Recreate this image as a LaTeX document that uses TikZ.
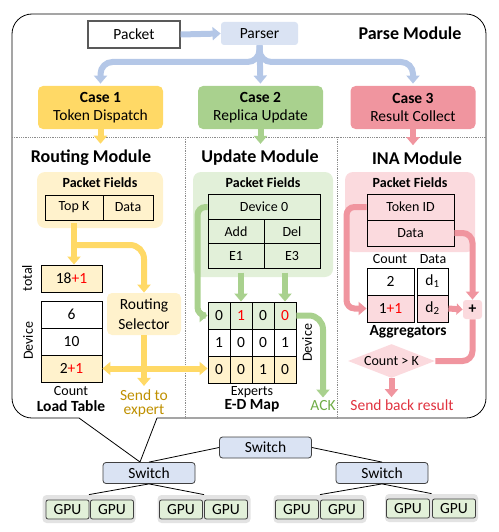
\documentclass[tikz,border=0pt]{standalone}
\usepackage{fontspec}
\setmainfont{Carlito}
\usetikzlibrary{arrows.meta,shapes.geometric}

\definecolor{blueArr}{HTML}{B4C7E7}
\definecolor{blueFill}{HTML}{DAE3F3}
\definecolor{yelCase}{HTML}{FFD966}
\definecolor{yelLight}{HTML}{FFF2CC}
\definecolor{grnCase}{HTML}{A9D18E}
\definecolor{grnLight}{HTML}{E2F0D9}
\definecolor{pnkCase}{HTML}{F0959F}
\definecolor{pnkLight}{HTML}{FBDADE}
\definecolor{goldText}{HTML}{BF9000}
\definecolor{ackText}{HTML}{70AD47}
\definecolor{redText}{HTML}{E0323F}
\definecolor{gpuGroup}{HTML}{E3E3E3}

\newcommand\titlefs{\fontsize{18}{21}\selectfont}
\newcommand\mainfs{\fontsize{15.5}{18.5}\selectfont}
\newcommand\cellfs{\fontsize{14}{16}\selectfont}
\newcommand\plusone{\textcolor{red}{+1}}

\begin{document}
\begin{tikzpicture}[x=1pt, y=-1pt, line width=0.8pt,
    every node/.style={inner sep=1pt, font=\mainfs},
    fat/.style={line width=6pt, -{Triangle[width=13pt,length=8pt]}},
    barrow/.style={fat, draw=blueArr},
    yarrow/.style={fat, draw=yelCase},
    garrow/.style={fat, draw=grnCase},
    parrow/.style={fat, draw=pnkCase},
    casebox/.style={rounded corners=5pt, minimum width=125pt, minimum height=43pt, align=center},
    fieldsbg/.style={rounded corners=8pt},
    cell/.style={draw, line width=0.9pt, inner sep=0pt, font=\cellfs},
    numcell/.style={draw, line width=0.9pt, inner sep=0pt, minimum width=22pt, minimum height=27pt},
    title/.style={font=\titlefs\bfseries},
    subtitle/.style={font=\cellfs\bfseries},
    note/.style={font=\cellfs},
    switch/.style={draw=black!75, fill=blueFill, rounded corners=3pt, minimum width=92pt, minimum height=21pt},
    gpu/.style={draw=black!75, fill=grnLight, rounded corners=2pt, minimum width=43pt, minimum height=19pt},
    gpugroup/.style={fill=gpuGroup, rounded corners=4pt, minimum width=93pt, minimum height=28pt}]
\useasboundingbox (0,0) rectangle (498,532);

% callout frame
\coordinate (tailtip) at (140,462);
\draw[rounded corners=20pt] (157,418) -- (486,418) -- (486,14) -- (12,14) -- (12,418) -- (79,418);
\draw (79,418) -- (tailtip) -- (157,418);

% parse module
\node[draw=black!65, line width=1.2pt, fill=white, minimum width=92pt, minimum height=27pt] (packet) at (134,34.5) {Packet};
\node[fill=blueFill, rounded corners=3pt, minimum width=77pt, minimum height=23pt] (parser) at (259.5,33.5) {Parser};
\node[title] (parsetitle) at (410,33) {Parse Module};

\node[casebox, fill=yelCase] (case1) at (100.5,107.5) {\textbf{Case 1}\\Token Dispatch};
\node[casebox, fill=grnCase] (case2) at (260.5,107.5) {\textbf{Case 2}\\Replica Update};
\node[casebox, fill=pnkCase] (case3) at (413,107.5) {\textbf{Case 3}\\Result Collect};

\draw[barrow] (packet.east) -- (parser.west);
\draw[barrow, shorten >=2pt] (parser.south) -- (case2.north);
\draw[barrow, rounded corners=12pt, shorten >=2pt] (parser.south) -- (parser.south |- 0,62) -| (case1.north);
\draw[barrow, rounded corners=12pt, shorten >=2pt] (parser.south) -- (parser.south |- 0,62) -| (case3.north);

% dividers
\draw[densely dotted, black!45] (12,137) -- (486,137);
\draw[densely dotted, black!45] (185,137) -- (185,418);
\draw[densely dotted, black!45] (337,137) -- (337,418);

\node[title] (routtitle) at (91,158) {Routing Module};
\node[title] (updtitle) at (260,158) {Update Module};
\node[title] (inatitle) at (417,158) {INA Module};

\draw[yarrow] (case1.south) -- ([yshift=5pt]routtitle.north -| case1.south);
\draw[garrow] (case2.south) -- ([yshift=5pt]updtitle.north -| case2.south);
\draw[parrow] (case3.south) -- ([yshift=5pt]inatitle.north -| case3.south);

% routing module
\node[fieldsbg, fill=yelLight, minimum width=126pt, minimum height=56pt] (rbg) at (100,200) {};
\node[subtitle] at (100,183) {Packet Fields};
\node[cell, fill=yelLight, minimum width=58pt, minimum height=25pt] (topk) at (74,207.5) {Top K};
\node[cell, fill=yelLight, minimum width=50pt, minimum height=25pt] (rdata) at (128,207.5) {Data};

\node[cell, font=\mainfs, fill=yelLight, minimum width=61pt, minimum height=27pt] (total) at (71.5,278.5) {18\plusone};
\node[cell, font=\mainfs, minimum width=61pt, minimum height=27pt] (dev1) at (71.5,314.5) {6};
\node[cell, font=\mainfs, minimum width=61pt, minimum height=27pt] (dev2) at (71.5,341.5) {10};
\node[cell, font=\mainfs, fill=yelLight, minimum width=61pt, minimum height=27pt] (dev3) at (71.5,368.5) {2\plusone};
\node[note, rotate=90] at (27,278) {total};
\node[note, rotate=90] at (28,341) {Device};
\node[note] at (71,391) {Count};
\node[subtitle, font=\fontsize{15.5}{17}\selectfont\bfseries] at (71,406) {Load Table};

\node[fill=yelLight, rounded corners=5pt, minimum width=74pt, minimum height=42pt, align=center, font=\fontsize{15.5}{20}\selectfont] (selector) at (144,314) {Routing\\Selector};
\node[text=goldText, align=center, font=\fontsize{15.5}{14}\selectfont] (sendexp) at (144,403) {Send to\\expert};

\coordinate (rsplit) at (topk.south |- 0,245);
\draw[yarrow, shorten <=3pt] (topk.south) -- (topk.south |- total.north);
\draw[yarrow, rounded corners=14pt] (rsplit) -| (selector.north);
\draw[yarrow, shorten >=2pt] (selector.south) -- (sendexp.north);

% update module
\node[fieldsbg, fill=grnLight, minimum width=140pt, minimum height=105pt] (ubg) at (263,224.5) {};
\node[subtitle] at (263,183) {Packet Fields};
\node[cell, fill=grnLight, minimum width=112pt, minimum height=24.5pt] (dev0) at (264,207) {Device 0};
\node[cell, fill=grnLight, minimum width=56pt, minimum height=24.5pt] (add) at (236,231.5) {Add};
\node[cell, fill=grnLight, minimum width=56pt, minimum height=24.5pt] (del) at (292,231.5) {Del};
\node[cell, fill=grnLight, minimum width=56pt, minimum height=24.5pt] (e1) at (236,256) {E1};
\node[cell, fill=grnLight, minimum width=56pt, minimum height=24.5pt] (e3) at (292,256) {E3};

\foreach \v [count=\c] in {0,\textcolor{red}{1},0,\textcolor{red}{0}}
  \node[numcell, fill=grnLight] (ed1\c) at (197+22*\c,315.5) {\v};
\foreach \v [count=\c] in {1,0,0,1}
  \node[numcell] (ed2\c) at (197+22*\c,342.5) {\v};
\foreach \v [count=\c] in {0,0,1,0}
  \node[numcell, fill=yelLight] (ed3\c) at (197+22*\c,369.5) {\v};
\node[note, rotate=90] at (307,343) {Device};
\node[note] at (252,392) {Experts};
\node[subtitle, font=\fontsize{15.5}{17}\selectfont\bfseries] at (252,406) {E-D Map};
\node[text=ackText] (ack) at (323,406) {ACK};

\draw[garrow, shorten <=4pt] (ed12.north |- e1.south) -- (ed12.north);
\draw[garrow, shorten <=4pt] (ed14.north |- e3.south) -- (ed14.north);
\draw[garrow, rounded corners=8pt] (dev0.west) -- ++(-10,0) |- (ed11.west);
\draw[garrow, rounded corners=14pt, shorten >=2pt] (ed14.east) -| (ack.north);

\draw[yarrow, {Triangle[width=13pt,length=8pt]}-{Triangle[width=13pt,length=8pt]}] (dev3.east) -- (dev3.east -| ed31.west);

% INA module
\node[fieldsbg, fill=pnkLight, minimum width=130pt, minimum height=80pt] (ibg) at (410,212) {};
\node[subtitle] at (410,183) {Packet Fields};
\node[cell, fill=pnkLight, minimum width=87pt, minimum height=26pt] (tokid) at (410.5,207) {Token ID};
\node[cell, fill=pnkLight, minimum width=87pt, minimum height=26pt] (idata) at (410.5,233) {Data};

\node[note] at (390,259) {Count};
\node[note] at (433,259) {Data};
\node[cell, font=\mainfs, minimum width=47pt, minimum height=27pt] (cnt1) at (390.5,281.5) {2};
\node[cell, font=\mainfs, fill=pnkLight, minimum width=47pt, minimum height=27pt] (cnt2) at (390.5,308.5) {1\plusone};
\node[cell, font=\mainfs, minimum width=31pt, minimum height=27pt] (d1) at (432.5,281.5) {d\textsubscript{1}};
\node[cell, font=\mainfs, fill=pnkLight, minimum width=31pt, minimum height=27pt] (d2) at (432.5,308.5) {d\textsubscript{2}};
\node[fill=pnkLight, rounded corners=3pt, minimum width=19pt, minimum height=19pt, font=\mainfs\bfseries] (plus) at (472.5,309.5) {+};
\node[subtitle, font=\fontsize{15.5}{17}\selectfont\bfseries] at (408,332) {Aggregators};
\node[diamond, aspect=2.56, fill=pnkLight, inner sep=0pt, minimum width=87pt, minimum height=34pt, font=\cellfs] (cond) at (391.5,361) {Count > K};
\node[text=redText] (sendback) at (402,405) {Send back result};

\draw[parrow, rounded corners=8pt] (tokid.west) -- ++(-20,0) |- (cnt2.west);
\draw[parrow, rounded corners=10pt] (idata.east) -| (plus.north);
\draw[parrow, -{Triangle[width=11pt,length=6pt]}] (d2.east) -- (plus.west);
\draw[line width=6pt, draw=pnkCase, rounded corners=10pt] (plus.south) |- (cond.east);
\draw[parrow, shorten >=1pt] (cond.south) -- (cond.south |- sendback.north);

% network
\node[switch] (sw0) at (265.5,447.5) {Switch};
\node[switch] (sw1) at (149,473) {Switch};
\node[switch] (sw2) at (382,473) {Switch};
\draw (sw0.west) -- (sw1.north);
\draw (sw0.east) -- (sw2.north);

\node[gpugroup] (g1) at (89,509) {};
\node[gpugroup] (g2) at (204,509) {};
\node[gpugroup] (g3) at (320,509) {};
\node[gpugroup] (g4) at (431.5,508) {};
\node[gpu] (g1a) at (67.5,509.5) {GPU};
\node[gpu] (g1b) at (112,509.5) {GPU};
\node[gpu] (g2a) at (181,509.5) {GPU};
\node[gpu] (g2b) at (226,509.5) {GPU};
\node[gpu] (g3a) at (297,509.5) {GPU};
\node[gpu] (g3b) at (342,509.5) {GPU};
\node[gpu] (g4a) at (408,508.5) {GPU};
\node[gpu] (g4b) at (454,508.5) {GPU};
\draw (sw1.south) -- (g1.north);
\draw (sw1.south) -- (g2.north);
\draw (sw2.south) -- (g3.north);
\draw (sw2.south) -- (g4.north);
\end{tikzpicture}
\end{document}
